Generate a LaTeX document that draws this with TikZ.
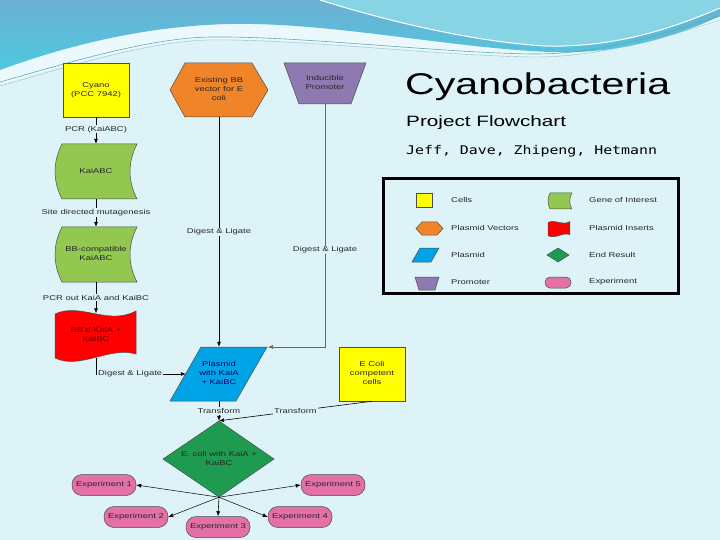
\documentclass[tikz,border=0pt]{standalone}
\usepackage{fontspec}
\usepackage{graphicx}
\setmainfont{Liberation Sans}
\newfontfamily\monof{DejaVu Sans Mono}
\usetikzlibrary{arrows.meta}
\definecolor{bgc}{RGB}{221,243,248}
\definecolor{yellowc}{RGB}{255,255,0}
\definecolor{orangec}{RGB}{240,132,40}
\definecolor{purplec}{RGB}{142,122,176}
\definecolor{greenc}{RGB}{146,200,80}
\definecolor{redc}{RGB}{255,0,0}
\definecolor{bluec}{RGB}{0,164,230}
\definecolor{dgreenc}{RGB}{30,155,80}
\definecolor{pinkc}{RGB}{228,112,168}
\definecolor{wavetop}{RGB}{108,176,212}
\definecolor{wavebot}{RGB}{78,200,222}
\definecolor{waveright}{RGB}{135,212,228}
\definecolor{bandc}{RGB}{236,249,252}
\definecolor{linec}{RGB}{95,170,180}
\newcommand{\ml}[1]{\scalebox{1.35}[1]{\begin{tabular}{@{}c@{}}#1\end{tabular}}}
\newcommand{\sxl}[1]{\scalebox{1.35}[1]{#1}}
\tikzset{
  pics/geneshape/.style={code={\draw[shp, fill=greenc] (7,0) -- (82,0) .. controls (72.7,18) and (72.7,37) .. (82,55) -- (7,55) .. controls (-2.3,37) and (-2.3,18) .. (7,0) -- cycle;}},
  pics/flagshape/.style={code={\draw[shp, fill=redc] (0,5) .. controls (25,-7) and (53,17) .. (81,2) -- (81,45) .. controls (55,37) and (25,61) .. (0,49) -- cycle;}},
  shp/.style={draw=black!70, line width=0.5pt},
}
\begin{document}
\begin{tikzpicture}[x=1pt,y=-1pt,
  txt/.style={font=\fontsize{7}{9}\selectfont, text=black!85, inner sep=0pt},
  lbl/.style={txt, fill=bgc, inner sep=1pt},
  arr/.style={-{Latex[length=5pt,width=4pt]}, line width=0.6pt},
  box/.style={shp, txt, minimum width=66pt, minimum height=54pt},
  expt/.style={shp, txt, fill=pinkc, rounded corners=10pt, minimum width=64pt, minimum height=21pt},
  leg/.style={txt, anchor=west}
]
% background
\fill[bgc] (0,0) rectangle (720,540);
\useasboundingbox (0,0) rectangle (720,540);
% white band
\fill[bandc] (0,60) .. controls (60,40) and (140,24) .. (230,22) .. controls (330,20) and (450,48) .. (550,50) .. controls (620,52) and (680,30) .. (720,12)
  -- (720,22) .. controls (670,36) and (600,56) .. (530,56) .. controls (430,54) and (300,38) .. (210,39) .. controls (150,40) and (70,64) .. (0,84) -- cycle;
% blue wave
\shade[top color=wavetop, bottom color=wavebot] (0,0) -- (720,0) -- (720,16) .. controls (680,35) and (620,55) .. (550,52) .. controls (450,48) and (330,22) .. (230,24) .. controls (140,26) and (60,48) .. (0,70) -- cycle;
\fill[waveright] (320,0) .. controls (400,25) and (480,42) .. (545,46) .. controls (620,48) and (680,25) .. (720,8) -- (720,0) -- cycle;
\draw[white, line width=1pt] (320,0) .. controls (400,25) and (480,42) .. (545,46) .. controls (620,48) and (680,25) .. (720,8);
\draw[linec, line width=0.6pt] (0,82) .. controls (70,62) and (150,38) .. (210,37) .. controls (300,36) and (430,52) .. (530,54) .. controls (600,55) and (670,32) .. (720,16);
\draw[linec!70, line width=0.4pt] (0,86) .. controls (70,66) and (150,41) .. (210,40) .. controls (300,39) and (430,55) .. (530,57) .. controls (600,58) and (670,36) .. (720,20);

% title
\node[anchor=base west, inner sep=0pt] (title) at (405,95) {\fontsize{30}{30}\selectfont\scalebox{1.37}[1]{Cyanobacteria}};
\node[anchor=base west, inner sep=0pt] (subtitle) at (406,127) {\fontsize{15}{15}\selectfont\scalebox{1.38}[1]{Project Flowchart}};
\node[anchor=base west, inner sep=0pt] (authors) at (406,155) {\monof\fontsize{12}{12}\selectfont\scalebox{1.24}[1]{Jeff, Dave, Zhipeng, Hetmann}};

% legend
\draw[line width=3pt] (383,179) rectangle (678,293);
\fill[yellowc, draw=black!70, line width=0.5pt] (416,193) rectangle (432,207);
\pic[xscale=0.29, yscale=0.29] at (548,193) {geneshape};
\draw[shp, fill=orangec] (416,228.5) -- (422,222) -- (437,222) -- (443,228.5) -- (437,235) -- (422,235) -- cycle;
\pic[xscale=0.27, yscale=0.3] at (548,221) {flagshape};
\draw[shp, fill=bluec] (420,248) -- (439,248) -- (431,262) -- (412,262) -- cycle;
\draw[shp, fill=dgreenc] (558,248) -- (569,255) -- (558,262) -- (547,255) -- cycle;
\draw[shp, fill=purplec] (415,277) -- (439,277) -- (435,290) -- (419,290) -- cycle;
\draw[shp, fill=pinkc, rounded corners=5pt] (545,277) rectangle (571,288);
\node[leg] (l1) at (451,200) {\sxl{Cells}};
\node[leg] (l2) at (589,200) {\sxl{Gene of Interest}};
\node[leg] (l3) at (451,228) {\sxl{Plasmid Vectors}};
\node[leg] (l4) at (589,228) {\sxl{Plasmid Inserts}};
\node[leg] (l5) at (451,255) {\sxl{Plasmid}};
\node[leg] (l6) at (589,255) {\sxl{End Result}};
\node[leg] (l7) at (451,282) {\sxl{Promoter}};
\node[leg] (l8) at (589,282) {\sxl{Experiment}};

% flowchart shapes
\node[box, fill=yellowc] (cyano) at (96,90) {\ml{Cyano\\(PCC 7942)}};
\draw[shp, fill=orangec] (170,90) -- (185,63) -- (252,63) -- (268,90) -- (252,117) -- (185,117) -- cycle;
\node[txt, minimum width=98pt, minimum height=54pt] (hex) at (219,90) {\ml{Existing BB\\vector for E\\coli}};
\draw[shp, fill=purplec] (284,63) -- (366,63) -- (351,104) -- (299,104) -- cycle;
\node[txt, minimum width=82pt, minimum height=41pt] (prom) at (325,83.5) {\ml{Inducible\\Promoter}};

\pic at (55,144) {geneshape};
\node[txt, minimum width=81pt, minimum height=55pt] (kai1) at (96,171.5) {\ml{KaiABC}};
\pic at (55,227) {geneshape};
\node[txt, minimum width=81pt, minimum height=55pt] (kai2) at (96,254.5) {\ml{BB-compatible\\KaiABC}};
\pic at (55,309) {flagshape};
\node[txt, text=red!35!black, minimum width=81pt, minimum height=44pt] (bbd) at (96,335.5) {\ml{BB'd KaiA +\\KaiBC}};

\draw[shp, fill=bluec] (201,347) -- (267,347) -- (236,401) -- (170,401) -- cycle;
\node[txt, text=blue!40!black, minimum width=66pt, minimum height=54pt] (plas) at (219,374) {\ml{Plasmid\\with KaiA\\+ KaiBC}};
\coordinate (plasTR) at (268,347);
\node[box, fill=yellowc] (ecoli) at (372,374) {\ml{E Coli\\competent\\cells}};

\draw[shp, fill=dgreenc] (219,421) -- (274,459) -- (219,497) -- (163,459) -- cycle;
\node[txt, minimum width=111pt, minimum height=76pt] (dia) at (219,459) {\ml{E. coli with KaiA +\\KaiBC}};

\node[expt] (exp1) at (104,485) {\sxl{Experiment 1}};
\node[expt] (exp5) at (333,485) {\sxl{Experiment 5}};
\node[expt] (exp2) at (136,517) {\sxl{Experiment 2}};
\node[expt] (exp4) at (300,517) {\sxl{Experiment 4}};
\node[expt] (exp3) at (218,527) {\sxl{Experiment 3}};

% connectors
\draw[arr] (cyano.south) -- node[lbl, pos=0.45] {\sxl{PCR (KaiABC)}} (kai1.north);
\draw[arr] (kai1.south) -- node[lbl, pos=0.48] {\sxl{Site directed mutagenesis}} (kai2.north);
\draw[arr] (kai2.south) -- node[lbl, pos=0.5] {\sxl{PCR out KaiA and KaiBC}} (bbd.north);
\draw[arr] (bbd.south) |- node[lbl, pos=0.69] {\sxl{Digest \& Ligate}} (plas.west);
\draw[arr] (hex.south) -- node[lbl, pos=0.5] {\sxl{Digest \& Ligate}} (plas.north);
\draw[arr, draw=black!60] (prom.south) |- node[lbl, pos=0.3] {\sxl{Digest \& Ligate}} (plasTR);
\draw[arr] (plas.south) -- node[lbl, pos=0.5] {\sxl{Transform}} (dia.north);
\draw[arr] (ecoli.south) -- node[lbl, pos=0.5] {\sxl{Transform}} (dia.north);
\draw[arr, line width=0.5pt] (dia.south) -- (exp1.east);
\draw[arr, line width=0.5pt] (dia.south) -- (exp5.west);
\draw[arr, line width=0.5pt] (dia.south) -- (exp2.east);
\draw[arr, line width=0.5pt] (dia.south) -- (exp4.west);
\draw[arr] (dia.south) -- (exp3.north);
\end{tikzpicture}
\end{document}
